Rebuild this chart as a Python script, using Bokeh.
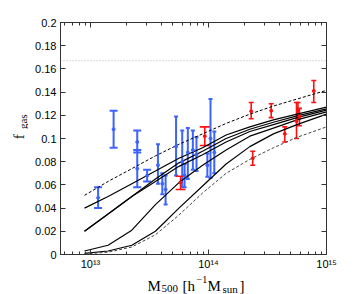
import math
from bokeh.plotting import figure
from bokeh.layouts import row, column
from bokeh.models import (FixedTicker, LogAxis, LinearAxis, Whisker, TeeHead,
                          ColumnDataSource, Span, CustomJSTickFormatter)
from bokeh.core.properties import value
from bokeh.embed import file_html
from bokeh.resources import INLINE

# ---------------- data ----------------
# model curves (mass in h^-1 Msun, gas fraction)
curve_mass = [8.9e12, 1.41e13, 2.24e13, 3.55e13, 5.62e13, 8.91e13,
              1.41e14, 2.24e14, 3.55e14, 5.62e14, 1.0e15]
curve_a = [0.040, 0.050, 0.061, 0.072, 0.083, 0.092, 0.103, 0.110, 0.116, 0.121, 0.127]
curve_b = [0.020, 0.035, 0.050, 0.065, 0.079, 0.089, 0.100, 0.108, 0.114, 0.1195, 0.1255]
curve_e = [0.020, 0.035, 0.050, 0.063, 0.076, 0.086, 0.097, 0.106, 0.112, 0.118, 0.1245]
curve_c = [0.003, 0.008, 0.021, 0.043, 0.062, 0.077, 0.090, 0.102, 0.109, 0.116, 0.123]
curve_d = [0.001, 0.003, 0.008, 0.020, 0.040, 0.059, 0.078, 0.093, 0.104, 0.112, 0.121]
upper_dashed = [0.051, 0.063, 0.074, 0.085, 0.095, 0.104, 0.113, 0.121, 0.128, 0.134, 0.1415]
lower_dashed = [0.0005, 0.002, 0.0065, 0.017, 0.034, 0.053, 0.070, 0.082, 0.092, 0.101, 0.110]

cosmic_fraction = 0.167

# blue data points
blue_mass = [1.16e13, 1.57e13, 2.49e13, 2.49e13, 3.02e13, 3.73e13, 4.06e13, 4.33e13,
             5.31e13, 5.99e13, 6.27e13, 6.68e13, 7.37e13, 7.91e13, 9.78e13, 1.04e14, 1.12e14]
blue_f = [0.049, 0.108, 0.097, 0.074, 0.068, 0.077, 0.061, 0.056,
          0.093, 0.080, 0.068, 0.088, 0.090, 0.086, 0.077, 0.100, 0.088]
blue_lo = [0.040, 0.092, 0.088, 0.058, 0.063, 0.061, 0.052, 0.043,
           0.068, 0.058, 0.058, 0.065, 0.073, 0.072, 0.067, 0.066, 0.070]
blue_hi = [0.058, 0.124, 0.107, 0.090, 0.073, 0.095, 0.070, 0.068,
           0.119, 0.107, 0.078, 0.109, 0.107, 0.101, 0.087, 0.134, 0.106]
blue_wide = [True, True, True, True, True, False, False, False,
             False, False, False, False, False, False, False, False, False]

# red data points
red_mass = [5.8e13, 9.3e13, 2.3e14, 2.37e14, 3.4e14, 4.43e14, 5.57e14, 5.73e14, 5.9e14, 7.8e14]
red_f = [0.062, 0.102, 0.1235, 0.083, 0.124, 0.104, 0.115, 0.124, 0.119, 0.141]
red_lo = [0.056, 0.094, 0.117, 0.077, 0.118, 0.097, 0.100, 0.117, 0.111, 0.131]
red_hi = [0.0675, 0.110, 0.131, 0.089, 0.130, 0.110, 0.131, 0.131, 0.126, 0.150]
red_wide = [True, True, False, False, False, False, False, False, False, False]

x_major = [1e13, 1e14, 1e15]
x_tick_labels = ["10\u00b9\u00b3", "10\u00b9\u2074", "10\u00b9\u2075"]
y_ticks = [0, 0.02, 0.04, 0.06, 0.08, 0.1, 0.12, 0.14, 0.16, 0.18, 0.2]

# ---------------- layout sizes ----------------
YLAB_W = 28
BORDER_L = 60 - YLAB_W
BORDER_T = 22
BORDER_R = 27
BORDER_B = 18
FRAME_W = 266
FRAME_H = 232
MAIN_W = BORDER_L + FRAME_W + BORDER_R
MAIN_H = BORDER_T + FRAME_H + BORDER_B
XLAB_H = 22
TOTAL_W = YLAB_W + MAIN_W

BLUE = "#3c64ff"
RED = "#ff1010"
SERIF = "Liberation Serif"

# ---------------- main figure ----------------
p = figure(frame_width=FRAME_W, frame_height=FRAME_H, x_axis_type="log",
           x_range=(5.57e12, 1.0e15), y_range=(0, 0.2),
           output_backend="svg", toolbar_location=None,
           min_border_left=BORDER_L, min_border_right=BORDER_R,
           min_border_top=BORDER_T, min_border_bottom=BORDER_B)
p.xgrid.visible = False
p.ygrid.visible = False
p.outline_line_color = "#333333"
p.background_fill_color = "white"

minor = []
for dec in [1e12, 1e13, 1e14]:
    for k in range(2, 10):
        minor.append(k * dec)

xt = FixedTicker(ticks=x_major, minor_ticks=minor)
yt = FixedTicker(ticks=y_ticks)

xfmt = CustomJSTickFormatter(args=dict(xvals=x_major, xlabs=x_tick_labels), code="""
    let best = 0, bd = 1e99;
    for (let i = 0; i < xvals.length; i++) {
        const d = Math.abs(Math.log10(xvals[i]) - Math.log10(tick));
        if (d < bd) { bd = d; best = i; }
    }
    return xlabs[best];
""")
yfmt = CustomJSTickFormatter(code="return tick === 0 ? '0' : String(parseFloat(tick.toFixed(2)));")
empty = CustomJSTickFormatter(code="return '';")

def style_axis(ax):
    ax.axis_line_color = "#333333"
    ax.major_tick_line_color = "#333333"
    ax.minor_tick_line_color = "#333333"
    ax.major_tick_in = 5
    ax.major_tick_out = 0
    ax.minor_tick_in = 3
    ax.minor_tick_out = 0
    ax.major_label_text_font = "Liberation Sans"
    ax.major_label_text_font_size = "11px"
    ax.major_label_text_color = "black"
    ax.major_label_standoff = 3

p.xaxis.ticker = xt
p.xaxis.formatter = xfmt
p.yaxis.ticker = yt
p.yaxis.formatter = yfmt
style_axis(p.xaxis[0])
style_axis(p.yaxis[0])
p.yaxis.minor_tick_line_color = None
p.yaxis.major_label_standoff = 4

top = LogAxis(ticker=xt, formatter=empty)
style_axis(top)
p.add_layout(top, "above")
right = LinearAxis(ticker=yt, formatter=empty)
style_axis(right)
right.minor_tick_line_color = None
p.add_layout(right, "right")

# cosmic baryon fraction
p.add_layout(Span(location=cosmic_fraction, dimension="width",
                  line_color="#b0b0b0", line_dash="1 2", line_width=1))

# model curves
for ys in [curve_a, curve_b, curve_e, curve_c, curve_d]:
    p.line(curve_mass, ys, line_color="black", line_width=1.2)
p.line(curve_mass, upper_dashed, line_color="black", line_width=1.0, line_dash="3 2")
p.line(curve_mass, lower_dashed, line_color="#444444", line_width=1.0, line_dash="3 2")

def add_errors(mass, f, lo, hi, wide, color, wide_size, narrow_size, lw):
    for flag, size in [(True, wide_size), (False, narrow_size)]:
        idx = [i for i in range(len(mass)) if wide[i] == flag]
        if not idx:
            continue
        src = ColumnDataSource(dict(x=[mass[i] for i in idx],
                                    lo=[lo[i] for i in idx],
                                    hi=[hi[i] for i in idx]))
        w = Whisker(base="x", lower="lo", upper="hi", source=src,
                    line_color=color, line_width=lw,
                    upper_head=TeeHead(size=size, line_color=color, line_width=lw),
                    lower_head=TeeHead(size=size, line_color=color, line_width=lw))
        p.add_layout(w)
    p.scatter(mass, f, size=3, marker="circle", color=color)

add_errors(blue_mass, blue_f, blue_lo, blue_hi, blue_wide, BLUE, 8, 4, 2)
add_errors(red_mass, red_f, red_lo, red_hi, red_wide, RED, 10, 5, 1.6)

# ---------------- helper panels for the axis titles ----------------
def text_panel(w, h):
    q = figure(width=w, height=h, x_range=(0, w), y_range=(0, h),
               x_axis_type=None, y_axis_type=None,
               output_backend="svg", toolbar_location=None,
               min_border=0, min_border_left=0, min_border_right=0,
               min_border_top=0, min_border_bottom=0)
    q.xgrid.visible = False
    q.ygrid.visible = False
    q.outline_line_color = None
    return q

def put(q, txt, x, y, size, angle=0.0):
    q.text(x=[x], y=[y], text=[txt], angle=angle,
           text_font=value(SERIF), text_font_size=size,
           text_color="black", text_align="left", text_baseline="alphabetic")

# y title  f_gas  (panel covers window x 0..28, y 0..MAIN_H)
ylab = text_panel(YLAB_W, MAIN_H)
put(ylab, "f", 18, MAIN_H - 137, "15px", math.pi / 2)
put(ylab, "gas", 22, MAIN_H - 125, "11px", math.pi / 2)

# x title  M_500 [h^-1 M_sun]  (panel covers window y MAIN_H..MAIN_H+XLAB_H)
xlab = text_panel(TOTAL_W, XLAB_H)
BOT = MAIN_H + XLAB_H
put(xlab, "M", 147, BOT - 285, "15px")
put(xlab, "500", 161, BOT - 288, "11px")
put(xlab, "[h", 182, BOT - 285, "15px")
put(xlab, "\u22121", 196, BOT - 279, "10px")
put(xlab, "M", 207, BOT - 285, "15px")
put(xlab, "sun", 222, BOT - 288, "11px")
put(xlab, "]", 239, BOT - 285, "15px")

layout = column(row(ylab, p, spacing=0), xlab, spacing=0)

open("out.html", "w").write(file_html(layout, INLINE))
